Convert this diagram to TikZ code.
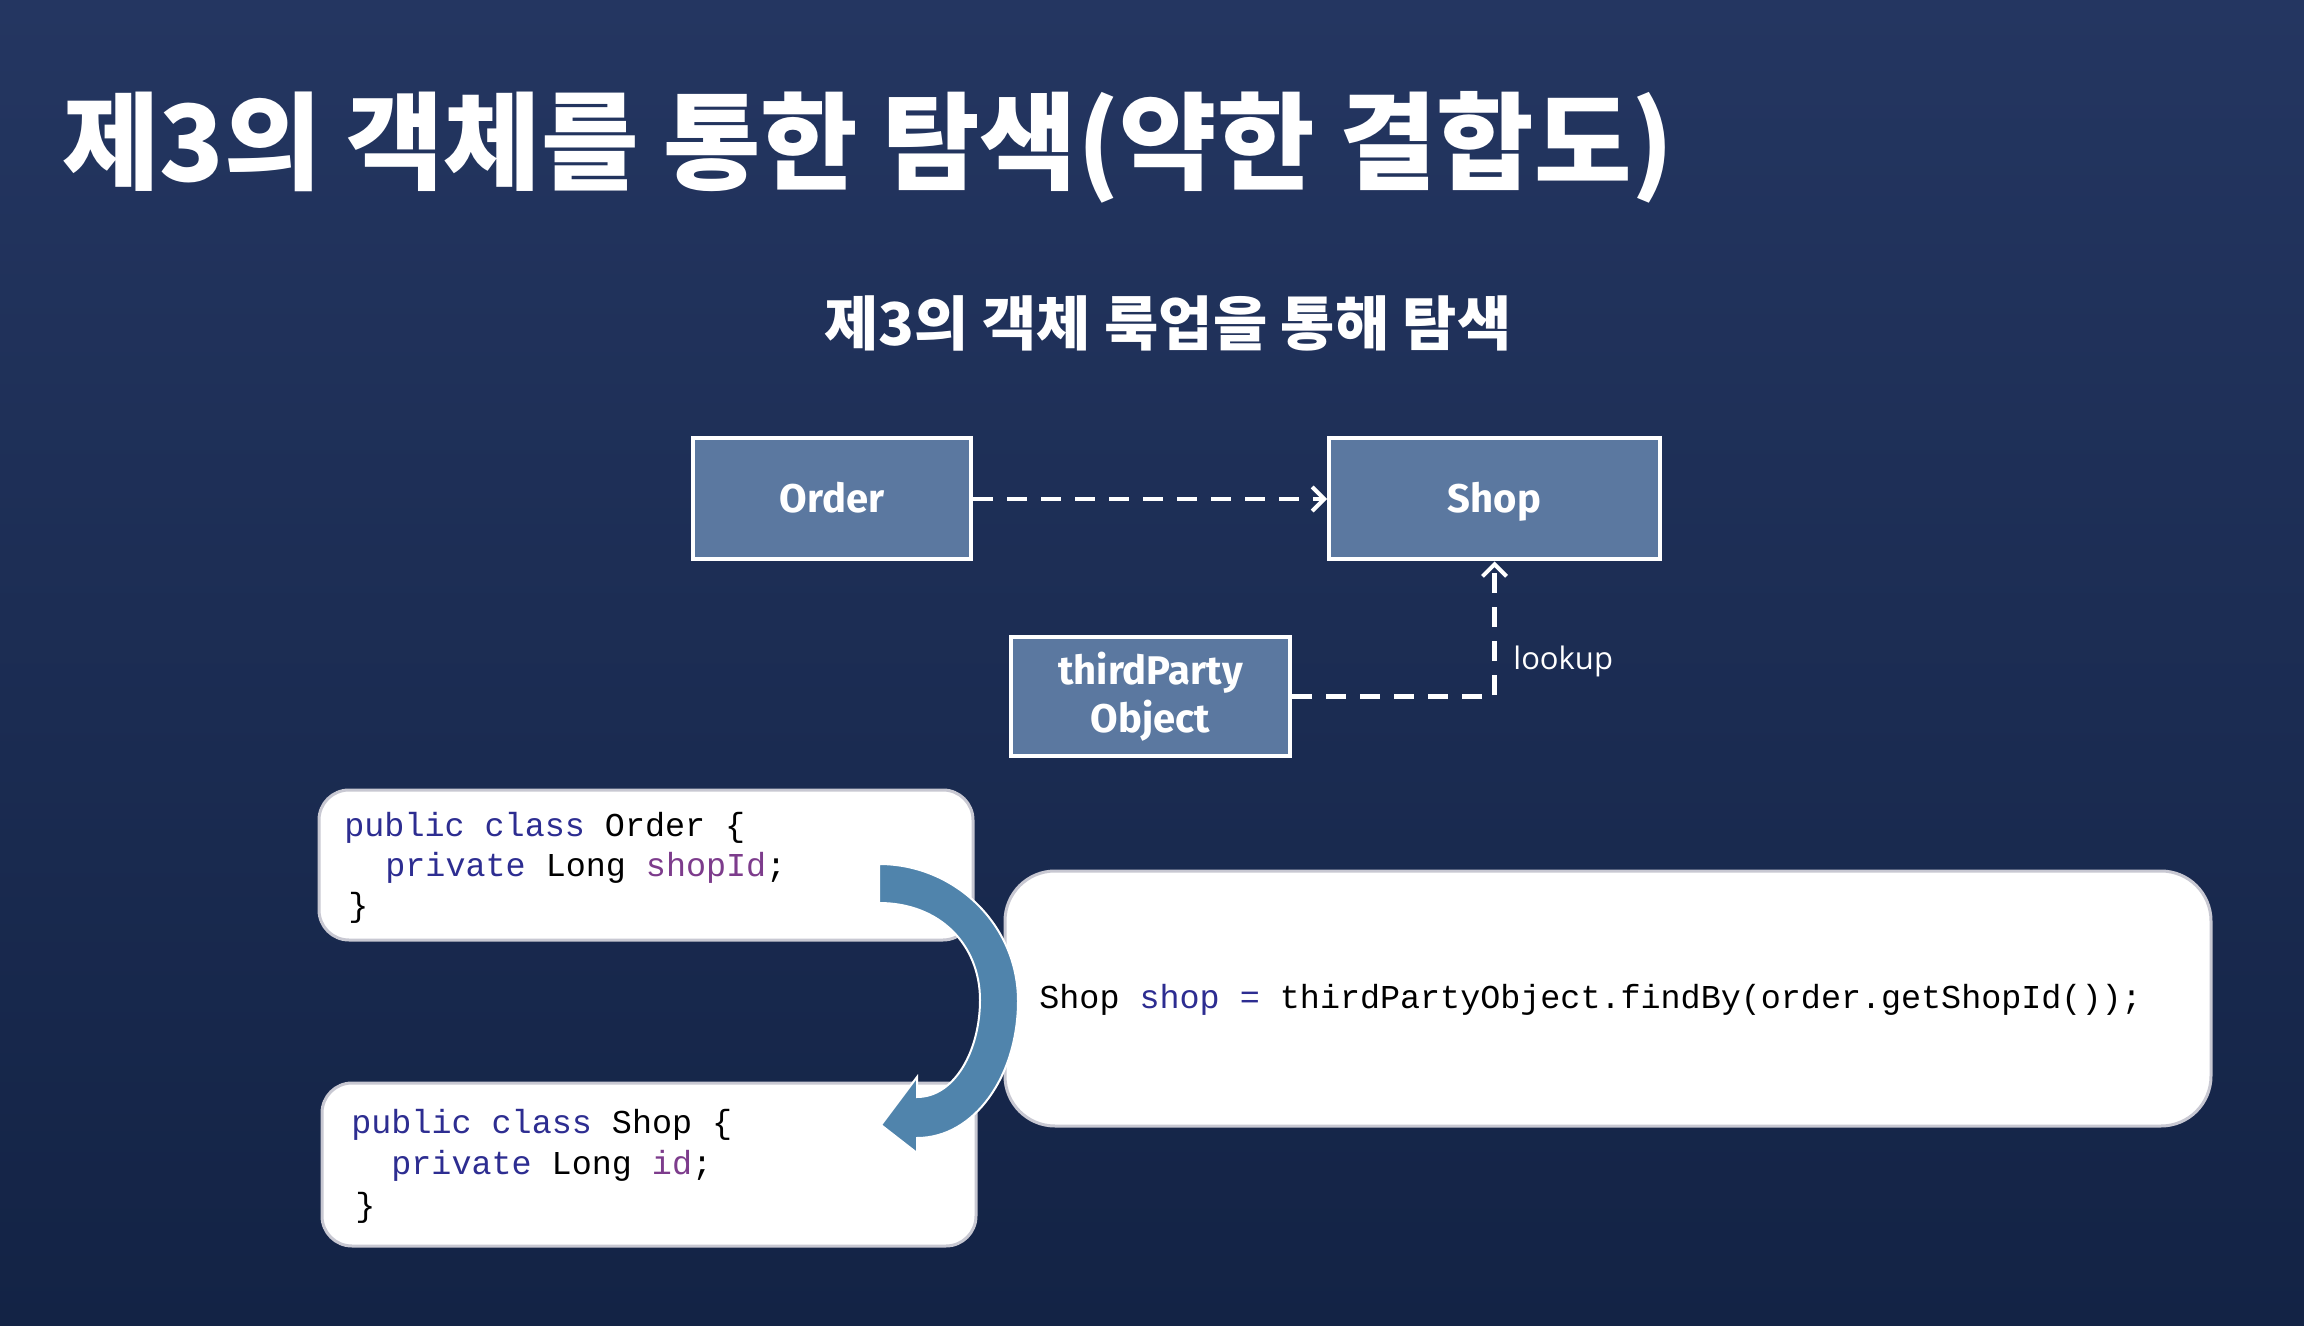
\documentclass[tikz,border=0pt]{standalone}
\usepackage{fontspec}
\usetikzlibrary{arrows.meta}
\newfontfamily\kr{Noto Sans CJK KR}
\newfontfamily\boxfont{Fira Sans}
\newfontfamily\lblfont{Open Sans}
\newfontfamily\codefont{Liberation Mono}
\definecolor{bgtop}{RGB}{36,54,97}
\definecolor{bgbot}{RGB}{19,35,69}
\definecolor{boxfill}{RGB}{91,120,160}
\definecolor{kw}{RGB}{45,45,145}
\definecolor{fld}{RGB}{125,60,140}
\definecolor{arrowblue}{RGB}{80,132,172}
\definecolor{codeborder}{RGB}{200,200,210}
\begin{document}
\begin{tikzpicture}[x=0.5pt,y=-0.5pt,
  umlbox/.style={draw=white, line width=2pt, fill=boxfill, text=white,
    font=\boxfont\bfseries\fontsize{20}{24}\selectfont, inner sep=0pt, align=center},
  onelabel/.style={text height=14pt, text depth=0pt},
  codebox/.style={draw=codeborder, line width=1.5pt, fill=white, inner sep=0pt},
  codeline/.style={anchor=mid west, inner sep=0pt,
    font=\codefont\fontsize{16.7}{20}\selectfont, text=black},
  dep/.style={draw=white, line width=2.2pt, dash pattern=on 10pt off 7pt,
    -{Straight Barb[length=6pt,width=12pt,line width=2pt]}}
]
\useasboundingbox (0,0) rectangle (2304,1326);
\shade[top color=bgtop, bottom color=bgbot] (0,0) rectangle (2304,1326);

% titles
\node[anchor=west, inner sep=0pt, text=white,
  font=\kr\bfseries\fontsize{53}{63}\selectfont] (title) at (62,147)
  {제3의 객체를 통한 탐색(약한 결합도)};
\node[inner sep=0pt, text=white,
  font=\kr\bfseries\fontsize{29.5}{35}\selectfont] (subtitle) at (1168,323)
  {제3의 객체 룩업을 통해 탐색};

% UML boxes
\node[umlbox, onelabel, minimum width=139pt, minimum height=60.5pt] (order) at (832,499) {Order};
\node[umlbox, onelabel, minimum width=165.5pt, minimum height=60.5pt] (shop) at (1494.5,499) {Shop};
\node[umlbox, minimum width=139.5pt, minimum height=59.5pt] (third) at (1150.5,696.5) {thirdParty\\Object};

\draw[dep] (order) -- (shop);
\draw[dep] (third.east) -| (shop.south);
\node[anchor=west, inner sep=0pt, text=white,
  font=\lblfont\fontsize{15.5}{18}\selectfont] (lookup) at (1513,661) {lookup};

% code boxes
\node[codebox, rounded corners=15pt, minimum width=327pt, minimum height=75pt] (code1) at (646,865) {};
\node[codebox, rounded corners=15pt, minimum width=327pt, minimum height=81.5pt] (code2) at (649,1164.5) {};
\node[codebox, rounded corners=25pt, minimum width=603pt, minimum height=127.5pt] (code3) at (1608,998.5) {};

\node[codeline] (c1a) at (344,832) {{\color{kw}public class} Order \{};
\node[codeline] (c1b) at (385,872) {{\color{kw}private} Long {\color{fld}shopId};};
\node[codeline] (c1c) at (348,912) {\}};

\node[codeline] (c2a) at (351,1129) {{\color{kw}public class} Shop \{};
\node[codeline] (c2b) at (391,1170) {{\color{kw}private} Long {\color{fld}id};};
\node[codeline] (c2c) at (355,1212) {\}};

\node[codeline] (c3a) at (1039,1004) {Shop {\color{kw}shop =} thirdPartyObject.findBy(order.getShopId());};

% curved arrow
\filldraw[fill=arrowblue, draw=white, line width=1pt]
  (879,864) .. controls (955,864) and (1018,925) .. (1018,1001)
  .. controls (1018,1075) and (975,1138) .. (917,1138)
  -- (917,1153) -- (881,1125) -- (917,1077) -- (917,1097)
  .. controls (955,1097) and (980,1050) .. (980,1000)
  .. controls (980,945) and (940,903) .. (879,903) -- cycle;
\end{tikzpicture}
\end{document}
